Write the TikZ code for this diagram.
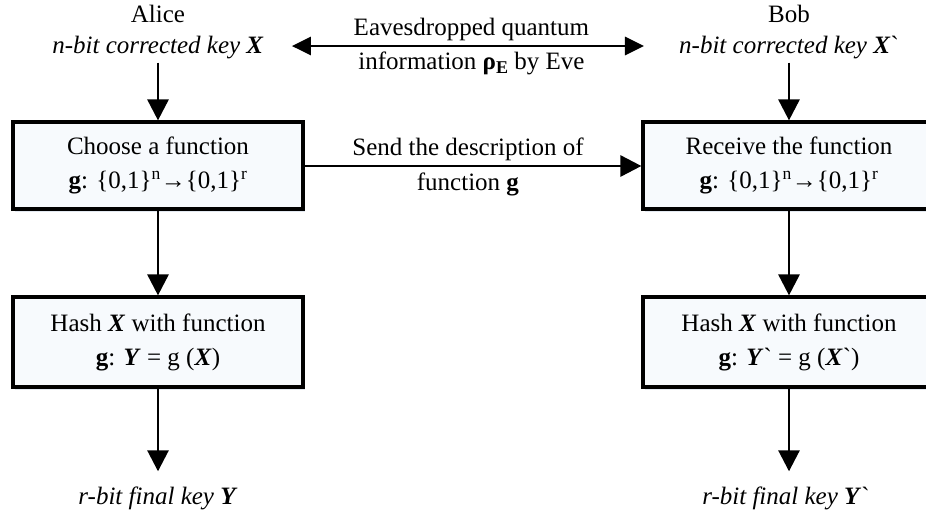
\documentclass[tikz,border=0pt]{standalone}
\usepackage{fontspec}
\setmainfont{Liberation Serif}[Ligatures=TeXOff]
\usetikzlibrary{arrows.meta,shadows}
\definecolor{boxfill}{HTML}{F7FAFD}
\definecolor{shadowc}{HTML}{DCE4EE}
\newcommand{\bi}[1]{\textbf{\textit{#1}}}
\begin{document}
\begin{tikzpicture}[x=1pt,y=-1pt,
  every node/.style={font=\fontsize{25}{34}\selectfont, inner sep=3pt},
  procbox/.style={draw=black, line width=3.2pt, fill=boxfill, align=center,
    minimum width=290pt, drop shadow={shadow xshift=2pt, shadow yshift=-3pt, fill=shadowc, opacity=0.8}},
  flow/.style={line width=2.8pt, -{Triangle[length=21pt,width=21pt]}},
  bflow/.style={line width=2.8pt, {Triangle[length=19pt,width=18pt]}-{Triangle[length=19pt,width=18pt]}},
  lbl/.style={align=center}]
\clip (0,0) rectangle (926,515);
\fill[white] (0,0) rectangle (926,515);

% titles
\node (alice) at (158,14) {Alice};
\node (bob) at (789,14) {Bob};
\node (keyA) at (158,48) {\textit{n-bit corrected key} \bi{X}};
\node (keyB) at (789,48) {\textit{n-bit corrected key} \bi{X}`};

% boxes
\node[procbox, minimum height=87pt] (choose) at (158,165.5)
  {Choose a function\\ \textbf{g}: \{0,1\}\textsuperscript{n}→\{0,1\}\textsuperscript{r}};
\node[procbox, minimum height=87pt, minimum width=292pt] (receive) at (789,165.5)
  {Receive the function\\ \textbf{g}: \{0,1\}\textsuperscript{n}→\{0,1\}\textsuperscript{r}};
\node[procbox, minimum height=90pt] (hashA) at (158,342)
  {Hash \bi{X} with function\\ \textbf{g}: \bi{Y} = g (\bi{X})};
\node[procbox, minimum height=90pt, minimum width=292pt] (hashB) at (789,342)
  {Hash \bi{X} with function\\ \textbf{g}: \bi{Y}` = g (\bi{X}`)};

% outputs
\node (finA) at (158,498) {\textit{r-bit final key} \bi{Y}};
\node (finB) at (786,498) {\textit{r-bit final key} \bi{Y}`};

% connectors
\draw[flow] (keyA) -- (choose);
\draw[flow] (keyB) -- (receive);
\draw[flow] (choose) -- (hashA);
\draw[flow] (receive) -- (hashB);
\draw[flow, shorten >=12pt] (hashA.south) -- (hashA.south |- finA.north);
\draw[flow, shorten >=12pt] (hashB.south) -- (hashB.south |- finB.north);

\draw[bflow, shorten <=25pt, shorten >=32pt] ([yshift=2pt]keyA.east) -- ([yshift=2pt]keyA.east -| keyB.west)
  node[midway, above=1pt] (eve1) {Eavesdropped quantum}
  node[midway, below=1pt] (eve2) {information {\bfseries ρ}\raisebox{-0.35ex}{\fontsize{18}{18}\selectfont\bfseries E} by Eve};

\draw[flow] ([yshift=-0.5pt]choose.east) -- ([yshift=-0.5pt]choose.east -| receive.west)
  node[pos=0.485, above=1pt] (send1) {Send the description of}
  node[pos=0.485, below=2pt] (send2) {function \textbf{g}};
\end{tikzpicture}
\end{document}
